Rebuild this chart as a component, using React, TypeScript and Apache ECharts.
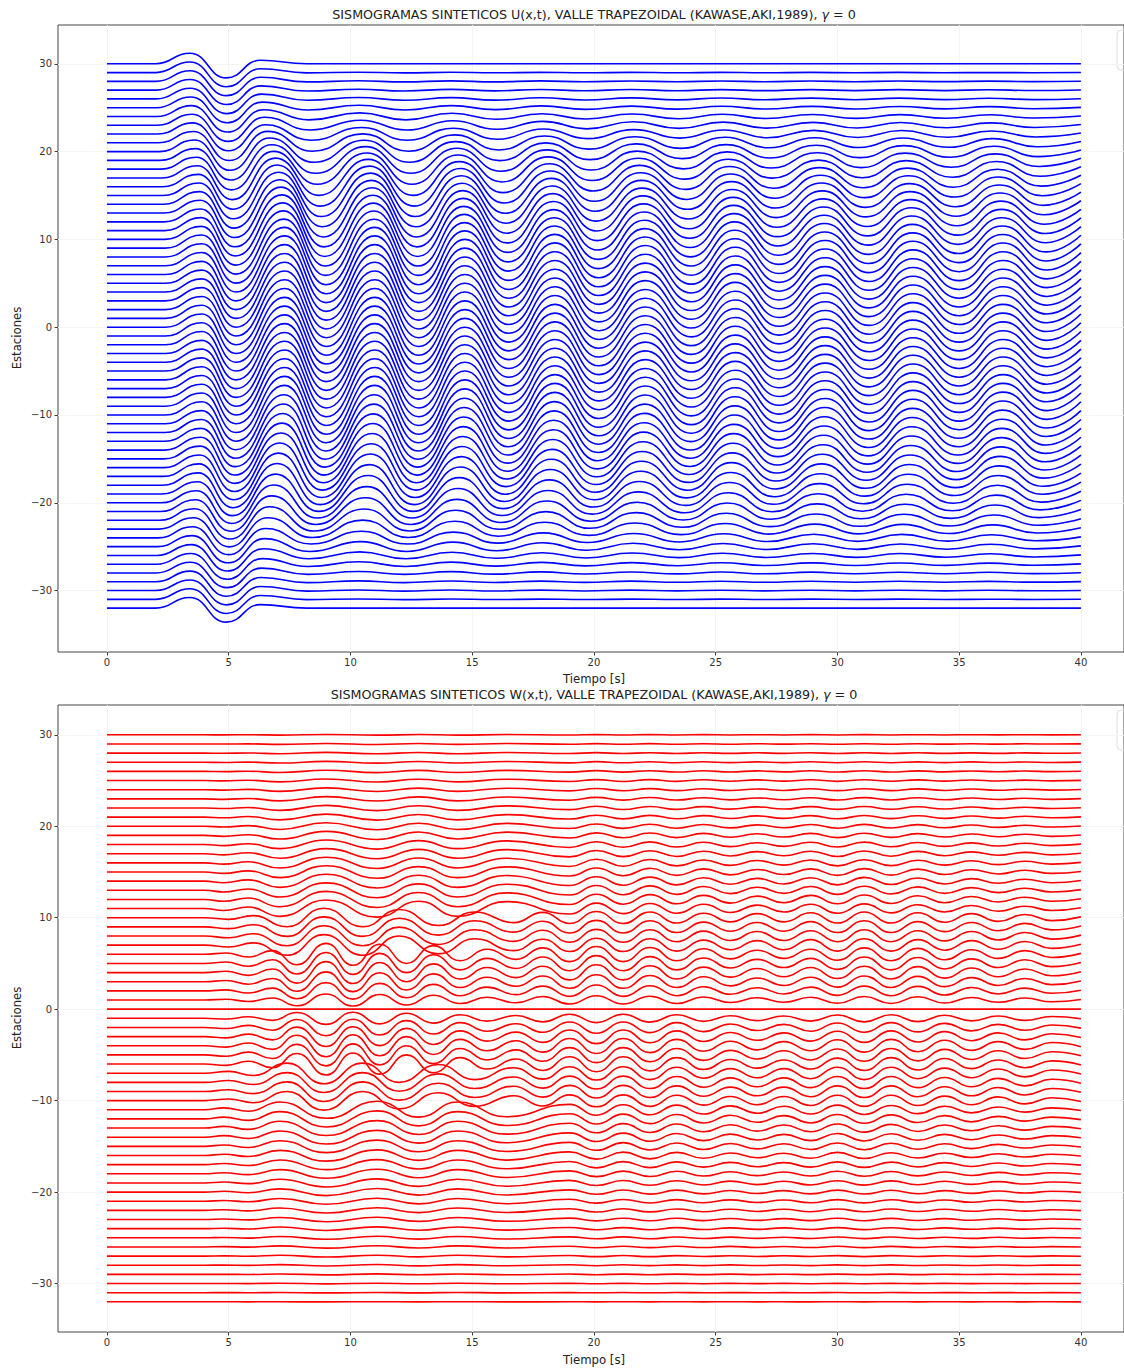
import React, { useEffect, useRef } from "react";
import * as echarts from "echarts";

// ---------------- DATA ----------------
const STATIONS = [
  30, 29, 28, 27, 26, 25, 24, 23, 22, 21, 20, 19, 18, 17, 16, 15, 14, 13, 12, 11, 10,
  9, 8, 7, 6, 5, 4, 3, 2, 1, 0, -1, -2, -3, -4, -5, -6, -7, -8, -9, -10,
  -11, -12, -13, -14, -15, -16, -17, -18, -19, -20, -21, -22, -23, -24, -25, -26, -27, -28, -29, -30, -31, -32,
];
const X_TICKS = [0, 5, 10, 15, 20, 25, 30, 35, 40];
const Y_TICKS = [-30, -20, -10, 0, 10, 20, 30];

// U(x,t): extremum times at the valley edge and at its centre, direct pulse and valley oscillation amplitudes
const U_T_EDGE = [2.0, 3.4, 4.9, 6.3, 8.2, 10.3, 12.2, 14.1, 15.9, 17.8, 19.6, 21.5, 23.4, 25.2, 27.0, 28.9, 30.7, 32.5, 34.4, 36.2, 38.0];
const U_T_CENTER = [2.4, 3.9, 5.3, 7.3, 9.0, 11.0, 12.8, 14.7, 16.5, 18.4, 20.2, 22.1, 24.0, 25.8, 27.6, 29.5, 31.3, 33.1, 35.0, 36.8, 38.6];
const U_PULSE = [0, 1.2, -1.6, 0.4, 0, 0, 0, 0, 0, 0, 0, 0, 0, 0, 0, 0, 0, 0, 0, 0, 0];
const U_OSC = [0, 0.3, -1.4, 3.0, -3.2, 3.4, -3.2, 3.0, -2.7, 2.6, -2.4, 2.3, -2.1, 2.1, -1.9, 1.9, -1.8, 1.8, -1.7, 1.6, -1.5];
const U_END = 0.5;
// station gain (same order as STATIONS)
const U_GAIN = [
  0.0, 0.01, 0.02, 0.03, 0.05, 0.08, 0.12, 0.17, 0.22, 0.3, 0.38, 0.46, 0.54, 0.62, 0.69, 0.75, 0.8, 0.85, 0.89, 0.92, 0.95,
  0.97, 0.99, 1.0, 1.0, 1.0, 1.0, 1.0, 1.0, 1.0, 1.0, 1.0, 1.0, 1.0, 1.0, 1.0, 1.0, 1.0, 1.0, 1.0, 0.99,
  0.97, 0.95, 0.92, 0.89, 0.85, 0.8, 0.75, 0.69, 0.62, 0.54, 0.46, 0.38, 0.3, 0.22, 0.17, 0.12, 0.08, 0.05, 0.03, 0.02, 0.01, 0.0,
];

// W(x,t): antisymmetric about station 0; inner (|x| <= 6), middle (7..10) and outer stations
const W_INNER_MAX = 6;
const W_MID_MAX = 10;
const W_T_INNER = [4.0, 4.9, 5.8, 6.8, 7.8, 9.0, 10.1, 11.2, 12.3, 13.4, 14.5, 15.6, 16.8, 17.9, 19.0, 20.1, 21.2, 22.3, 23.4, 24.5, 25.6, 26.7, 27.8, 28.9, 30.0, 31.1, 32.2, 33.3, 34.4, 35.5, 36.6, 37.7, 38.8];
const W_A_INNER = [0, 0.15, -0.3, 0.4, -1.15, 1.2, -1.2, 1.1, -1.0, 0.95, -0.7, 0.55, -0.55, 0.7, -0.8, 0.85, -0.8, 0.75, -0.7, 0.6, -0.5, 0.45, -0.45, 0.55, -0.65, 0.7, -0.7, 0.65, -0.6, 0.5, -0.45, 0.4, -0.35];
const W_T_MID = [4.0, 5.0, 6.0, 7.4, 8.9, 10.5, 12.0, 13.6, 15.1, 16.7, 17.9, 19.0, 20.1, 21.2, 22.3, 23.4, 24.5, 25.6, 26.7, 27.8, 28.9, 30.0, 31.1, 32.2, 33.3, 34.4, 35.5, 36.6, 37.7, 38.8];
const W_A_MID = [0, -0.2, 0.25, -1.1, 1.15, -1.1, 1.0, -0.95, 0.7, -0.6, 0.65, -0.7, 0.75, -0.7, 0.7, -0.65, 0.55, -0.5, 0.5, -0.5, 0.6, -0.65, 0.7, -0.65, 0.6, -0.55, 0.5, -0.45, 0.4, -0.35];
const W_T_OUTER = [4.0, 4.8, 5.8, 7.1, 9.0, 11.1, 12.8, 14.4, 16.4, 19.0, 20.1, 21.2, 22.3, 23.4, 24.5, 25.6, 26.7, 27.8, 28.9, 30.0, 31.1, 32.2, 33.3, 34.4, 35.5, 36.6, 37.7, 38.8];
const W_A_OUTER = [0, -0.25, 0.2, -1.0, 1.1, -1.1, 0.95, -1.0, 0.9, -0.7, 0.7, -0.65, 0.65, -0.6, 0.55, -0.5, 0.45, -0.45, 0.55, -0.6, 0.6, -0.55, 0.5, -0.45, 0.4, -0.35, 0.3, -0.25];
const W_END = 0.1;
// gain by |station| = 1..32
const W_GAIN = [0.55, 0.75, 0.9, 1.0, 1.0, 1.0, 1.0, 0.97, 0.95, 0.9, 0.85, 0.8, 0.74, 0.68, 0.62, 0.56, 0.5, 0.45, 0.4, 0.35, 0.3, 0.26, 0.22, 0.18, 0.15, 0.12, 0.09, 0.07, 0.05, 0.03, 0.02, 0.01];

const TITLE_U = "SISMOGRAMAS SINTETICOS U(x,t), VALLE TRAPEZOIDAL (KAWASE,AKI,1989), ";
const TITLE_W = "SISMOGRAMAS SINTETICOS W(x,t), VALLE TRAPEZOIDAL (KAWASE,AKI,1989), ";
const X_NAME = "Tiempo [s]";
const Y_NAME = "Estaciones";

// ---------------- BUILD ----------------
const FONT = "DejaVu Sans";

function traceU(i: number): number[][] {
  const s = STATIONS[i];
  const g = U_GAIN[i];
  const pts: number[][] = [[0, s]];
  for (let k = 0; k < U_T_CENTER.length; k++) {
    const t = U_T_EDGE[k] + g * (U_T_CENTER[k] - U_T_EDGE[k]);
    pts.push([t, s + U_PULSE[k] + g * U_OSC[k]]);
  }
  pts.push([40, s + g * U_END]);
  return pts;
}

function traceW(i: number): number[][] {
  const s = STATIONS[i];
  if (s === 0) return [[0, 0], [40, 0]];
  const sign = s > 0 ? 1 : -1;
  const a = Math.abs(s);
  const g = W_GAIN[a - 1];
  const T = a <= W_INNER_MAX ? W_T_INNER : a <= W_MID_MAX ? W_T_MID : W_T_OUTER;
  const A = a <= W_INNER_MAX ? W_A_INNER : a <= W_MID_MAX ? W_A_MID : W_A_OUTER;
  const pts: number[][] = [[0, s]];
  for (let k = 0; k < T.length; k++) pts.push([T[k], s + sign * g * A[k]]);
  pts.push([40, s + sign * g * W_END]);
  return pts;
}

const fmt = (v: number) => (v < 0 ? "\u2212" + Math.abs(v) : String(v));

function xAxis(gi: number) {
  return {
    type: "value",
    gridIndex: gi,
    min: -2.012,
    max: 41.77,
    axisLine: { show: false, onZero: false },
    axisTick: { show: true, customValues: X_TICKS, length: 3.5, lineStyle: { color: "#444", width: 1 } },
    axisLabel: { customValues: X_TICKS, fontSize: 10, color: "#333", margin: 5, fontFamily: FONT, formatter: fmt },
    splitLine: { show: true, lineStyle: { color: "#f4f4f4", width: 1 } },
  };
}
function yAxis(gi: number, min: number, max: number) {
  return {
    type: "value",
    gridIndex: gi,
    min,
    max,
    axisLine: { show: false, onZero: false },
    axisTick: { show: true, customValues: Y_TICKS, length: 3.5, lineStyle: { color: "#444", width: 1 } },
    axisLabel: { customValues: Y_TICKS, fontSize: 10, color: "#333", margin: 6, fontFamily: FONT, formatter: fmt },
    splitLine: { show: true, lineStyle: { color: "#f4f4f4", width: 1 } },
  };
}

function titleText(x: number, y: number, main: string) {
  return {
    type: "text",
    x,
    y,
    style: {
      text: "{a|" + main + "}{g|\u03b3}{a| = 0}",
      rich: {
        a: { fontSize: 12.7, fontFamily: FONT, fill: "#222", color: "#222" },
        g: { fontSize: 12.7, fontFamily: FONT, fontStyle: "italic", fill: "#222", color: "#222" },
      },
      textAlign: "center",
      textVerticalAlign: "middle",
      align: "center",
      verticalAlign: "middle",
    },
  };
}
function plainText(x: number, y: number, text: string, rot = 0) {
  return {
    type: "text",
    x,
    y,
    rotation: rot,
    style: {
      text,
      font: "11.7px " + FONT,
      fill: "#222",
      textAlign: "center",
      textVerticalAlign: "middle",
      align: "center",
      verticalAlign: "middle",
    },
  };
}

function buildOption() {
  const series: any[] = [];
  STATIONS.forEach((_, i) => {
    series.push({
      type: "line",
      xAxisIndex: 0,
      yAxisIndex: 0,
      data: traceU(i),
      smooth: 0.5,
      smoothMonotone: "x",
      showSymbol: false,
      symbol: "none",
      silent: true,
      lineStyle: { color: "#0000ff", width: 1.6 },
    });
  });
  STATIONS.forEach((_, i) => {
    series.push({
      type: "line",
      xAxisIndex: 1,
      yAxisIndex: 1,
      data: traceW(i),
      smooth: 0.5,
      smoothMonotone: "x",
      showSymbol: false,
      symbol: "none",
      silent: true,
      lineStyle: { color: "#ff0000", width: 1.6 },
    });
  });

  return {
    animation: false,
    backgroundColor: "#ffffff",
    grid: [
      { left: 58, top: 25, right: 0, height: 627, show: true, borderColor: "#444", borderWidth: 1, backgroundColor: "transparent" },
      { left: 58, top: 705, right: 0, height: 627, show: true, borderColor: "#444", borderWidth: 1, backgroundColor: "transparent" },
    ],
    xAxis: [xAxis(0), xAxis(1)],
    yAxis: [yAxis(0, -37.0, 34.42), yAxis(1, -35.3, 33.26)],
    series,
    graphic: [
      titleText(594, 14, TITLE_U),
      titleText(594, 694, TITLE_W),
      plainText(594, 679, X_NAME),
      plainText(594, 1360, X_NAME),
      plainText(17, 338, Y_NAME, Math.PI / 2),
      plainText(17, 1018, Y_NAME, Math.PI / 2),
      { type: "rect", shape: { x: 1117, y: 30, width: 60, height: 40, r: 4 }, style: { fill: "none", stroke: "#dddddd", lineWidth: 1 } },
      { type: "rect", shape: { x: 1117, y: 710, width: 60, height: 40, r: 4 }, style: { fill: "none", stroke: "#dddddd", lineWidth: 1 } },
    ],
  };
}

export default function App() {
  const ref = useRef<HTMLDivElement>(null);
  useEffect(() => {
    if (!ref.current) return;
    const chart = echarts.init(ref.current, null, { renderer: "svg" });
    chart.setOption(buildOption() as any);
    return () => chart.dispose();
  }, []);
  return (
    <div
      ref={ref}
      style={{ position: "absolute", left: 0, top: 0, width: 1124, height: 1369, background: "#fff" }}
    />
  );
}
